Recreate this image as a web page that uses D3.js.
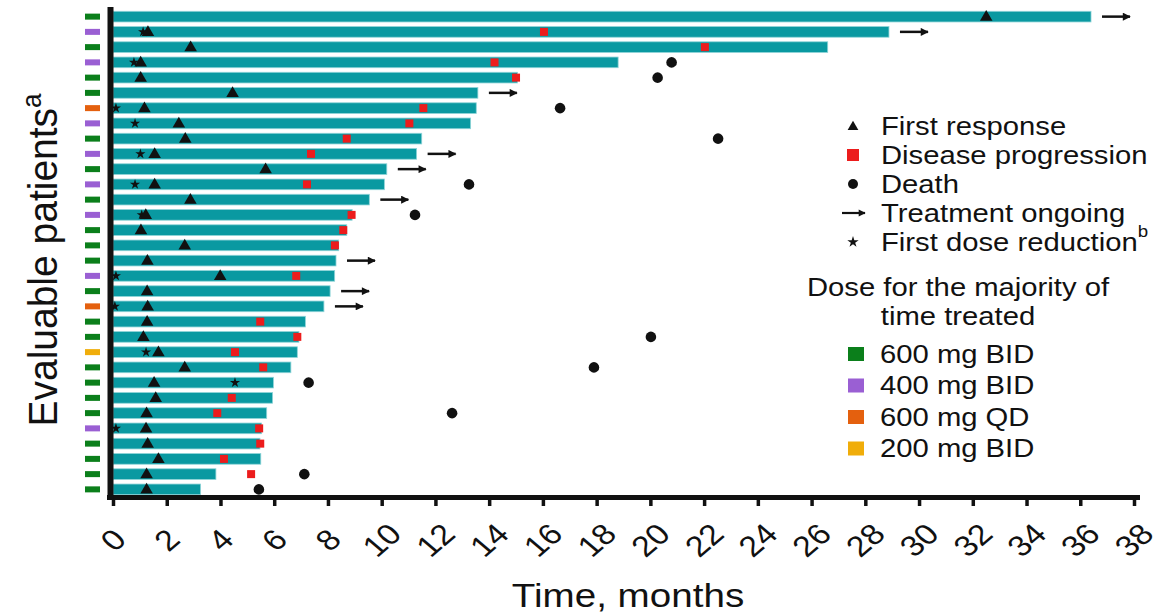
<!DOCTYPE html>
<html>
<head>
<meta charset="utf-8">
<script src="https://cdn.jsdelivr.net/npm/d3@7"></script>
<style>
  html, body { margin: 0; padding: 0; background: #fff; }
  svg { display: block; font-family: "Liberation Sans", Arial, Helvetica, sans-serif; }
</style>
</head>
<body>
<svg id="chart" width="1176" height="616"></svg>
<script>
// Swimmer plot: time on treatment per evaluable patient (months)
const patients = d3.range(1, 33);
const duration = [36.4, 28.88, 26.6, 18.8, 15.05, 13.58, 13.52, 13.31, 11.49, 11.3, 10.19, 10.1, 9.54, 8.9, 8.7, 8.4,
                  8.3, 8.25, 8.08, 7.85, 7.16, 6.92, 6.86, 6.62, 5.97, 5.94, 5.72, 5.53, 5.47, 5.5, 3.83, 3.26];
const dose = ["600 mg BID", "400 mg BID", "600 mg BID", "400 mg BID", "600 mg BID", "600 mg BID", "600 mg QD", "400 mg BID",
              "600 mg BID", "400 mg BID", "600 mg BID", "400 mg BID", "600 mg BID", "400 mg BID", "600 mg BID", "600 mg BID",
              "600 mg BID", "400 mg BID", "600 mg BID", "600 mg QD", "600 mg BID", "600 mg BID", "200 mg BID", "600 mg BID",
              "600 mg BID", "600 mg BID", "600 mg BID", "400 mg BID", "600 mg BID", "600 mg BID", "600 mg BID", "600 mg BID"];
const firstResponse = [32.5, 1.3, 2.89, 1.03, 1.03, 4.45, 1.17, 2.45, 2.69, 1.55, 5.68, 1.55, 2.88, 1.22, 1.04, 2.67,
                       1.28, 3.99, 1.27, 1.29, 1.27, 1.13, 1.69, 2.67, 1.53, 1.59, 1.25, 1.23, 1.29, 1.69, 1.25, 1.25];
const progression = [null, 16.04, 22.03, 14.2, 15.0, null, 11.55, 11.03, 8.7, 7.37, null, 7.22, null, 8.88, 8.57, 8.26,
                     null, 6.82, null, null, 5.48, 6.86, 4.54, 5.59, null, 4.42, 3.88, 5.44, 5.48, 4.13, 5.14, null];
const death = [null, null, null, 20.79, 20.27, null, 16.64, null, 22.52, null, null, 13.25, null, 11.24, null, null,
               null, null, null, null, null, 20.02, null, 17.9, 7.28, null, 12.62, null, null, null, 7.12, 5.43];
const doseReduction = [null, 1.12, null, 0.78, null, null, 0.11, 0.82, null, 1.02, null, 0.82, null, 1.07, null, null,
                       null, 0.11, null, 0.07, null, null, 1.23, null, 4.54, null, null, 0.11, null, null, null, null];
const ongoing = [true, true, false, false, false, true, false, false, false, true, true, false, true, false, false, false,
                 true, false, true, true, false, false, false, false, false, false, false, false, false, false, false, false];
const xTicks = [0, 2, 4, 6, 8, 10, 12, 14, 16, 18, 20, 22, 24, 26, 28, 30, 32, 34, 36, 38];
const doseLevels = ["600 mg BID", "400 mg BID", "600 mg QD", "200 mg BID"];
const doseColors = ["#0b7f1b", "#9a5fd3", "#e4600e", "#f0ad0a"];
const eventLabels = ["First response", "Disease progression", "Death", "Treatment ongoing", "First dose reduction"];

const SX = 1.17;           // horizontal stretch applied to lettering
const INK = "#111";
const TEAL = "#0a99a1";
const RED = "#ec1c1c";

const svg = d3.select("#chart");

const x = d3.scaleLinear().domain([0, 38]).range([113, 1134]);
const y = d3.scaleBand().domain(patients).range([9, 497]).paddingInner(0.3).paddingOuter(0.15);
const doseColor = d3.scaleOrdinal().domain(doseLevels).range(doseColors);

const rows = patients.map((p, i) => ({
  p, end: duration[i], dose: dose[i], resp: firstResponse[i], prog: progression[i],
  death: death[i], red: doseReduction[i], ongoing: ongoing[i]
}));
const cy = p => y(p) + y.bandwidth() / 2;

// text helper: stretched lettering, optionally rotated
function label(parent, px, py, str, opts = {}) {
  const sx = opts.sx || SX;
  const g = parent.append("g")
    .attr("transform", `translate(${px},${py}) scale(${sx},1)` + (opts.rotate ? ` rotate(${opts.rotate})` : ""));
  const t = g.append("text")
    .attr("fill", INK)
    .attr("font-size", opts.size || 25)
    .attr("text-anchor", opts.anchor || "start")
    .attr("dominant-baseline", opts.baseline || "auto")
    .text(str);
  if (opts.sup) {
    t.append("tspan").attr("font-size", opts.supSize || 16).attr("dy", -(opts.supRise || 12)).text(opts.sup);
  }
  return t;
}

// arrowhead
svg.append("defs").append("marker")
  .attr("id", "head").attr("viewBox", "0 0 10 10").attr("refX", 9).attr("refY", 5)
  .attr("markerWidth", 4).attr("markerHeight", 3.2).attr("markerUnits", "strokeWidth").attr("orient", "auto")
  .append("path").attr("d", "M0,0 L10,5 L0,10 Z").attr("fill", INK);

// bars
svg.append("g").selectAll("rect").data(rows).join("rect")
  .attr("x", x(0)).attr("y", d => y(d.p))
  .attr("width", d => x(d.end) - x(0)).attr("height", y.bandwidth())
  .attr("fill", TEAL).attr("stroke", "#8fd4d8").attr("stroke-width", 0.8);

// dose indicators left of the axis
svg.append("g").selectAll("rect").data(rows).join("rect")
  .attr("x", 85).attr("y", d => cy(d.p) - 3).attr("width", 15).attr("height", 6)
  .attr("fill", d => doseColor(d.dose));

// disease progression
svg.append("g").selectAll("rect").data(rows.filter(d => d.prog != null)).join("rect")
  .attr("x", d => x(d.prog) - 4).attr("y", d => cy(d.p) - 4).attr("width", 8).attr("height", 8)
  .attr("fill", RED);

// first dose reduction
const star = d3.symbol().type(d3.symbolStar).size(32);
svg.append("g").selectAll("path").data(rows.filter(d => d.red != null)).join("path")
  .attr("transform", d => `translate(${x(d.red)},${cy(d.p)})`).attr("d", star).attr("fill", INK);

// first response
const tri = d3.symbol().type(d3.symbolTriangle).size(68);
svg.append("g").selectAll("path").data(rows.filter(d => d.resp != null)).join("path")
  .attr("transform", d => `translate(${x(d.resp)},${cy(d.p) + 0.5})`).attr("d", tri).attr("fill", INK);

// deaths
svg.append("g").selectAll("circle").data(rows.filter(d => d.death != null)).join("circle")
  .attr("cx", d => x(d.death)).attr("cy", d => cy(d.p)).attr("r", 5.3).attr("fill", INK);

// treatment ongoing
svg.append("g").selectAll("line").data(rows.filter(d => d.ongoing)).join("line")
  .attr("x1", d => x(d.end) + 11).attr("x2", d => x(d.end) + 39)
  .attr("y1", d => cy(d.p)).attr("y2", d => cy(d.p))
  .attr("stroke", INK).attr("stroke-width", 2.5).attr("marker-end", "url(#head)");

// axes
const xAxis = svg.append("g").attr("transform", "translate(0,497)")
  .call(d3.axisBottom(x).tickValues(xTicks).tickSize(9).tickFormat(""));
xAxis.select(".domain").remove();
xAxis.selectAll(".tick line").attr("stroke", INK).attr("stroke-width", 3.5);
svg.append("line").attr("x1", 107).attr("x2", 1140).attr("y1", 497.5).attr("y2", 497.5)
  .attr("stroke", INK).attr("stroke-width", 5);
svg.append("line").attr("x1", 110.5).attr("x2", 110.5).attr("y1", 7).attr("y2", 500)
  .attr("stroke", INK).attr("stroke-width", 6);

xTicks.forEach(t => {
  label(svg, x(t), 540, String(t), { size: 29, anchor: "middle", baseline: "central", rotate: -45 });
});

label(svg, 628, 607, "Time, months", { size: 33, anchor: "middle" });
label(svg, 57, 260, "Evaluable patients", { size: 39, sx: 1.05, anchor: "middle", rotate: -90, sup: "a", supSize: 26, supRise: 15 });

// legend: events
const lx = 853, ly0 = 126, lstep = 29;
const leg = svg.append("g");
leg.append("path").attr("transform", `translate(${lx},${ly0 + 1})`).attr("d", d3.symbol().type(d3.symbolTriangle).size(50)).attr("fill", INK);
leg.append("rect").attr("x", lx - 6).attr("y", ly0 + lstep - 6).attr("width", 12).attr("height", 12).attr("fill", RED);
leg.append("circle").attr("cx", lx).attr("cy", ly0 + 2 * lstep).attr("r", 5).attr("fill", INK);
leg.append("line").attr("x1", lx - 11).attr("x2", lx + 12).attr("y1", ly0 + 3 * lstep).attr("y2", ly0 + 3 * lstep)
  .attr("stroke", INK).attr("stroke-width", 2.2).attr("marker-end", "url(#head)");
leg.append("path").attr("transform", `translate(${lx},${ly0 + 4 * lstep})`).attr("d", d3.symbol().type(d3.symbolStar).size(40)).attr("fill", INK);
eventLabels.forEach((s, i) => {
  label(leg, 881, ly0 + i * lstep, s, { size: 25, baseline: "central", sup: i === 4 ? "b" : null, supSize: 16, supRise: 11 });
});

// legend: dose
label(leg, 958, 287, "Dose for the majority of", { size: 25, anchor: "middle", baseline: "central" });
label(leg, 958, 316, "time treated", { size: 25, anchor: "middle", baseline: "central" });
doseLevels.forEach((s, i) => {
  const yy = 354 + i * 31.5;
  leg.append("rect").attr("x", 848).attr("y", yy - 7).attr("width", 16).attr("height", 14).attr("fill", doseColors[i]);
  label(leg, 880, yy, s, { size: 25, baseline: "central" });
});
</script>
</body>
</html>
